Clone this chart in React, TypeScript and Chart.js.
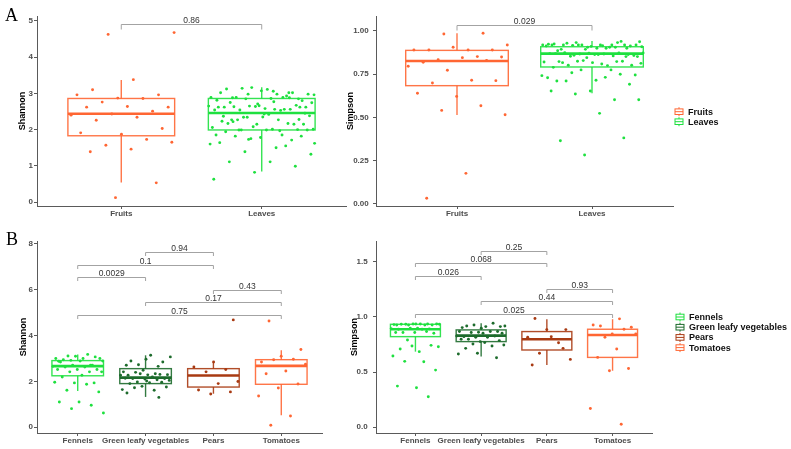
import { useEffect, useRef } from "react";
import { Chart, registerables } from "chart.js";

Chart.register(...registerables);

// ---------------- data ----------------
const groupsA = ["Fruits", "Leaves"];
const groupsB = ["Fennels", "Green leafy vegetables", "Pears", "Tomatoes"];

// Panel A – Shannon
const fruitsShannon = [4.63, 4.68, 3.38, 3.1, 2.96, 2.87, 2.96, 2.86, 2.76, 2.62, 2.64, 2.62, 2.51, 2.43, 2.4, 2.34, 2.26, 2.03, 1.87, 1.91, 1.73, 1.57, 1.65, 1.46, 1.39, 0.53, 0.12];
const leavesShannon = [3.02, 2.98, 2.96, 3.06, 2.88, 2.85, 2.71, 2.81, 2.89, 3.14, 2.98, 3.11, 3.12, 3.02, 3.16, 2.89, 2.98, 2.89, 2.8, 3.07, 3.02, 2.93, 2.85, 2.74, 2.86, 2.75, 2.67, 2.64, 2.54, 2.53, 2.54, 2.62, 2.58, 2.62, 2.56, 2.65, 2.65, 2.56, 2.63, 2.62, 2.66, 2.62, 2.56, 2.34, 2.38, 2.42, 2.17, 2.15, 2.08, 2.06, 2.27, 2.27, 2.15, 2.35, 2.23, 2.17, 2.34, 2.01, 2.01, 2.27, 2.0, 2.15, 1.85, 1.85, 1.99, 1.99, 1.99, 1.94, 1.71, 1.75, 1.6, 1.5, 1.82, 1.82, 1.78, 1.64, 1.55, 1.39, 1.32, 1.11, 1.11, 0.99, 0.82, 0.63, 1.97, 1.99, 2.45, 2.43, 2.37, 2.88, 1.73, 1.62, 2.77, 2.22, 2.28];
const aShannonQ1 = [1.83, 1.99];
const aShannonMedian = [2.44, 2.46];
const aShannonQ3 = [2.86, 2.86];
const aShannonLow = [0.54, 0.84];
const aShannonHigh = [3.37, 3.17];
const aShannonTicks = [0, 1, 2, 3, 4, 5];
const aShannonPairFrom = [1];
const aShannonPairTo = [2];
const aShannonPairY = [4.91];
const aShannonPairP = ["0.86"];

// Panel A – Simpson
const fruitsSimpson = [0.987, 0.983, 0.919, 0.89, 0.89, 0.89, 0.906, 0.89, 0.852, 0.834, 0.85, 0.846, 0.819, 0.83, 0.773, 0.796, 0.715, 0.699, 0.713, 0.622, 0.64, 0.568, 0.541, 0.516, 0.177, 0.033];
const leavesSimpson = [0.925, 0.933, 0.919, 0.909, 0.915, 0.919, 0.9, 0.906, 0.923, 0.919, 0.917, 0.919, 0.9, 0.886, 0.94, 0.919, 0.919, 0.9, 0.929, 0.913, 0.911, 0.919, 0.906, 0.933, 0.938, 0.919, 0.894, 0.919, 0.894, 0.913, 0.906, 0.854, 0.858, 0.864, 0.869, 0.873, 0.867, 0.873, 0.867, 0.875, 0.864, 0.871, 0.869, 0.856, 0.86, 0.852, 0.864, 0.823, 0.825, 0.829, 0.821, 0.8, 0.802, 0.802, 0.817, 0.79, 0.823, 0.825, 0.813, 0.809, 0.817, 0.852, 0.846, 0.73, 0.775, 0.759, 0.746, 0.715, 0.711, 0.75, 0.775, 0.742, 0.732, 0.711, 0.692, 0.653, 0.653, 0.603, 0.636, 0.603, 0.524, 0.366, 0.382, 0.283];
const aSimpsonQ1 = [0.684, 0.792];
const aSimpsonMedian = [0.827, 0.869];
const aSimpsonQ3 = [0.888, 0.909];
const aSimpsonLow = [0.514, 0.64];
const aSimpsonHigh = [0.987, 0.942];
const aSimpsonTicks = [0, 0.25, 0.5, 0.75, 1];
const aSimpsonPairFrom = [1];
const aSimpsonPairTo = [2];
const aSimpsonPairY = [1.033];
const aSimpsonPairP = ["0.029"];

// Panel B – Shannon
const fennelsShannon = [2.87, 2.7, 2.91, 2.88, 2.99, 2.94, 3.06, 3.09, 2.99, 3.17, 3.1, 2.99, 2.88, 2.84, 2.7, 2.7, 2.65, 2.62, 2.62, 2.51, 2.51, 2.51, 2.41, 2.41, 2.41, 2.26, 2.19, 1.93, 1.93, 1.96, 1.87, 1.61, 1.54, 1.1, 1.1, 0.96, 0.81, 0.62];
const glvShannon = [2.96, 2.7, 2.65, 2.72, 3.06, 3.13, 2.88, 2.84, 2.48, 2.41, 2.33, 2.39, 2.29, 2.28, 2.26, 2.3, 2.33, 2.26, 2.19, 2.12, 2.12, 2.1, 2.13, 2.07, 1.97, 2.04, 1.94, 1.9, 1.96, 1.78, 1.64, 1.61, 1.72, 1.75, 2.01, 1.49, 1.3];
const pearsShannon = [4.67, 2.84, 2.62, 2.51, 2.41, 1.99, 1.9, 1.62, 1.54, 1.45];
const tomatoesShannon = [4.62, 3.38, 3.09, 2.84, 2.96, 2.94, 2.74, 2.45, 2.33, 1.88, 1.71, 1.36, 0.49, 0.09];
const bShannonQ1 = [2.24, 1.9, 1.75, 1.87];
const bShannonMedian = [2.66, 2.16, 2.25, 2.67];
const bShannonQ3 = [2.9, 2.55, 2.55, 2.94];
const bShannonLow = [1.58, 1.32, 1.46, 0.52];
const bShannonHigh = [3.17, 3.13, 2.84, 3.35];
const bShannonTicks = [0, 2, 4, 6, 8];
const bShannonPairFrom = [2, 1, 1, 3, 2, 1];
const bShannonPairTo = [3, 3, 2, 4, 4, 4];
const bShannonPairY = [7.61, 7.07, 6.53, 5.98, 5.43, 4.88];
const bShannonPairP = ["0.94", "0.1", "0.0029", "0.43", "0.17", "0.75"];

// Panel B – Simpson
const fennelsSimpson = [0.936, 0.927, 0.936, 0.927, 0.933, 0.936, 0.933, 0.927, 0.936, 0.93, 0.927, 0.933, 0.936, 0.897, 0.888, 0.891, 0.897, 0.894, 0.888, 0.858, 0.852, 0.858, 0.858, 0.867, 0.791, 0.73, 0.685, 0.709, 0.742, 0.736, 0.645, 0.594, 0.597, 0.518, 0.358, 0.373, 0.276];
const glvSimpson = [0.912, 0.897, 0.903, 0.942, 0.927, 0.918, 0.912, 0.918, 0.867, 0.861, 0.867, 0.867, 0.858, 0.852, 0.852, 0.821, 0.827, 0.815, 0.827, 0.815, 0.797, 0.785, 0.776, 0.797, 0.736, 0.755, 0.745, 0.767, 0.715, 0.63, 0.67, 0.664];
const pearsSimpson = [0.985, 0.885, 0.885, 0.815, 0.766, 0.67, 0.615, 0.82, 0.564, 0.715];
const tomatoesSimpson = [0.982, 0.918, 0.906, 0.845, 0.927, 0.888, 0.815, 0.845, 0.709, 0.633, 0.533, 0.512, 0.17, 0.027];
const bSimpsonQ1 = [0.821, 0.776, 0.7, 0.633];
const bSimpsonMedian = [0.888, 0.83, 0.797, 0.836];
const bSimpsonQ3 = [0.933, 0.882, 0.867, 0.888];
const bSimpsonLow = [0.685, 0.64, 0.564, 0.512];
const bSimpsonHigh = [0.942, 0.942, 0.979, 0.979];
const bSimpsonTicks = [0, 0.5, 1, 1.5];
const bSimpsonPairFrom = [2, 1, 1, 3, 2, 1];
const bSimpsonPairTo = [3, 3, 2, 4, 4, 4];
const bSimpsonPairY = [1.6, 1.488, 1.373, 1.257, 1.145, 1.03];
const bSimpsonPairP = ["0.25", "0.068", "0.026", "0.93", "0.44", "0.025"];

// ---------------- styles ----------------
const ORANGE = "#ff6633";
const GREEN = "#1ee03f";
const DARKGREEN = "#1d6b2c";
const BROWN = "#a83a12";
const AXIS = "#5a5a5a";
const SANS = "'Liberation Sans', Arial, sans-serif";

type Frame = {
  left: number; top: number; width: number; height: number;
  yW: number; xH: number; padTop: number; padRight: number;
  titlePad: number; tickPad: number; drop: number;
  legend?: { x: number; y: number; dy: number };
};

type Spec = {
  groups: string[]; colors: string[]; points: number[][];
  q1: number[]; med: number[]; q3: number[]; lo: number[]; hi: number[];
  yMin: number; yMax: number; yTicks: number[]; digits: number; title: string;
  pFrom: number[]; pTo: number[]; pY: number[]; pLabel: string[];
  seed: number; frame: Frame;
};

// deterministic jitter (geom_jitter emulation), width ±0.38 of a category
function jitter(k: number, seed: number) {
  const u = (k * 0.6180339887 + seed * 0.377) % 1;
  return (u * 2 - 1) * 0.38;
}

const specs: Spec[] = [
  {
    groups: groupsA, colors: [ORANGE, GREEN], points: [fruitsShannon, leavesShannon],
    q1: aShannonQ1, med: aShannonMedian, q3: aShannonQ3, lo: aShannonLow, hi: aShannonHigh,
    yMin: -0.11, yMax: 5.138, yTicks: aShannonTicks, digits: 0, title: "Shannon",
    pFrom: aShannonPairFrom, pTo: aShannonPairTo, pY: aShannonPairY, pLabel: aShannonPairP, seed: 1,
    frame: { left: 0, top: 0, width: 350, height: 225, yW: 37, xH: 19, padTop: 16, padRight: 4, titlePad: 17.3, tickPad: 1, drop: 5 },
  },
  {
    groups: groupsA, colors: [ORANGE, GREEN], points: [fruitsSimpson, leavesSimpson],
    q1: aSimpsonQ1, med: aSimpsonMedian, q3: aSimpsonQ3, lo: aSimpsonLow, hi: aSimpsonHigh,
    yMin: -0.0116, yMax: 1.0867, yTicks: aSimpsonTicks, digits: 2, title: "Simpson",
    pFrom: aSimpsonPairFrom, pTo: aSimpsonPairTo, pY: aSimpsonPairY, pLabel: aSimpsonPairP, seed: 2,
    frame: { left: 330, top: 0, width: 461, height: 225, yW: 46, xH: 19, padTop: 16, padRight: 118, titlePad: 15.1, tickPad: 4.3, drop: 5, legend: { x: 349, y: 111.7, dy: 10 } },
  },
  {
    groups: groupsB, colors: [GREEN, DARKGREEN, BROWN, ORANGE], points: [fennelsShannon, glvShannon, pearsShannon, tomatoesShannon],
    q1: bShannonQ1, med: bShannonMedian, q3: bShannonQ3, lo: bShannonLow, hi: bShannonHigh,
    yMin: -0.248, yMax: 8.1, yTicks: bShannonTicks, digits: 0, title: "Shannon",
    pFrom: bShannonPairFrom, pTo: bShannonPairTo, pY: bShannonPairY, pLabel: bShannonPairP, seed: 3,
    frame: { left: 0, top: 225, width: 350, height: 224, yW: 37, xH: 16, padTop: 16, padRight: 28, titlePad: 17.9, tickPad: 1, drop: 3.5 },
  },
  {
    groups: groupsB, colors: [GREEN, DARKGREEN, BROWN, ORANGE], points: [fennelsSimpson, glvSimpson, pearsSimpson, tomatoesSimpson],
    q1: bSimpsonQ1, med: bSimpsonMedian, q3: bSimpsonQ3, lo: bSimpsonLow, hi: bSimpsonHigh,
    yMin: -0.052, yMax: 1.6875, yTicks: bSimpsonTicks, digits: 1, title: "Simpson",
    pFrom: bSimpsonPairFrom, pTo: bSimpsonPairTo, pY: bSimpsonPairY, pLabel: bSimpsonPairP, seed: 4,
    frame: { left: 330, top: 225, width: 461, height: 224, yW: 46, xH: 16, padTop: 16, padRight: 139, titlePad: 19.6, tickPad: 5.3, drop: 3.5, legend: { x: 350, y: 92, dy: 10.2 } },
  },
];

function withAlpha(hex: string, a: number) {
  const r = parseInt(hex.slice(1, 3), 16), g = parseInt(hex.slice(3, 5), 16), b = parseInt(hex.slice(5, 7), 16);
  return `rgba(${r},${g},${b},${a})`;
}

function PanelChart({ spec }: { spec: Spec }) {
  const ref = useRef<HTMLCanvasElement>(null);
  const f = spec.frame;
  useEffect(() => {
    const n = spec.groups.length;
    const datasets = spec.points.map((vals, gi) => ({
      type: "scatter" as const,
      label: spec.groups[gi],
      data: vals.map((v, k) => ({ x: gi + 1 + jitter(k, spec.seed + gi), y: v })),
      backgroundColor: spec.colors[gi],
      borderWidth: 0,
      pointRadius: 1.45,
      pointHoverRadius: 1.45,
    }));

    const line = (ctx: CanvasRenderingContext2D, x1: number, y1: number, x2: number, y2: number) => {
      ctx.beginPath();
      ctx.moveTo(x1, y1);
      ctx.lineTo(x2, y2);
      ctx.stroke();
    };

    const plugin = {
      id: "boxAndBrackets",
      beforeDatasetsDraw(chart: any) {
        const ctx: CanvasRenderingContext2D = chart.ctx;
        const xs = chart.scales.x, ys = chart.scales.y;
        ctx.save();
        spec.groups.forEach((_, i) => {
          const cx = xs.getPixelForValue(i + 1);
          const half = cx - xs.getPixelForValue(i + 1 - 0.38);
          const yQ1 = ys.getPixelForValue(spec.q1[i]);
          const yQ3 = ys.getPixelForValue(spec.q3[i]);
          const yMed = ys.getPixelForValue(spec.med[i]);
          const yLo = ys.getPixelForValue(spec.lo[i]);
          const yHi = ys.getPixelForValue(spec.hi[i]);
          const c = spec.colors[i];
          ctx.strokeStyle = withAlpha(c, 0.9);
          ctx.lineWidth = 1.4;
          line(ctx, cx, yHi, cx, yQ3);
          line(ctx, cx, yQ1, cx, yLo);
          ctx.strokeRect(cx - half, yQ3, 2 * half, yQ1 - yQ3);
          ctx.strokeStyle = c;
          ctx.lineWidth = 2.6;
          line(ctx, cx - half, yMed, cx + half, yMed);
        });
        ctx.restore();
      },
      afterDatasetsDraw(chart: any) {
        const ctx: CanvasRenderingContext2D = chart.ctx;
        const xs = chart.scales.x, ys = chart.scales.y;
        ctx.save();
        ctx.strokeStyle = "#a3a3a3";
        ctx.lineWidth = 1;
        ctx.fillStyle = "#333333";
        ctx.font = `8.5px ${SANS}`;
        ctx.textAlign = "center";
        ctx.textBaseline = "alphabetic";
        spec.pY.forEach((yv, i) => {
          const x1 = xs.getPixelForValue(spec.pFrom[i]);
          const x2 = xs.getPixelForValue(spec.pTo[i]);
          const y = Math.round(ys.getPixelForValue(yv)) + 0.5;
          ctx.beginPath();
          ctx.moveTo(x1, y + f.drop);
          ctx.lineTo(x1, y);
          ctx.lineTo(x2, y);
          ctx.lineTo(x2, y + f.drop);
          ctx.stroke();
          ctx.fillText(spec.pLabel[i], (x1 + x2) / 2, y - 2);
        });
        if (f.legend) {
          const L = f.legend;
          spec.groups.forEach((g, i) => {
            const y = L.y + i * L.dy;
            const c = spec.colors[i];
            ctx.strokeStyle = c;
            ctx.lineWidth = 1;
            line(ctx, L.x, y - 4.5, L.x, y + 4.5);
            ctx.fillStyle = "#ffffff";
            ctx.fillRect(L.x - 4, y - 2.8, 8, 5.6);
            ctx.strokeRect(L.x - 4, y - 2.8, 8, 5.6);
            line(ctx, L.x - 4, y, L.x + 4, y);
            ctx.fillStyle = "#111111";
            ctx.font = `bold 9px ${SANS}`;
            ctx.textAlign = "left";
            ctx.textBaseline = "middle";
            ctx.fillText(g, L.x + 9, y + 0.5);
          });
        }
        ctx.restore();
      },
    };

    const tickFont = { family: SANS, size: 8, weight: "bold" as const };
    const chart = new Chart(ref.current!, {
      type: "scatter",
      data: { datasets: datasets as any },
      options: {
        responsive: false,
        animation: false,
        devicePixelRatio: 1,
        events: [],
        layout: { padding: { left: 0, top: f.padTop, right: f.padRight, bottom: 0 } },
        plugins: { legend: { display: false }, tooltip: { enabled: false } },
        scales: {
          x: {
            type: "linear",
            bounds: "data",
            min: 0.4,
            max: n + 0.6,
            afterBuildTicks: (axis: any) => {
              axis.ticks = spec.groups.map((_, i) => ({ value: i + 1 }));
            },
            afterFit: (s: any) => { s.height = f.xH; },
            ticks: {
              autoSkip: false,
              maxRotation: 0,
              minRotation: 0,
              padding: 0,
              color: "#4d4d4d",
              font: tickFont,
              callback: (_v: any, idx: number) => spec.groups[idx],
            },
            grid: { display: true, drawOnChartArea: false, drawTicks: true, tickLength: 3, color: AXIS },
            border: { display: true, color: AXIS, width: 1 },
          },
          y: {
            type: "linear",
            bounds: "data",
            min: spec.yMin,
            max: spec.yMax,
            afterBuildTicks: (axis: any) => {
              axis.ticks = spec.yTicks.map((v) => ({ value: v }));
            },
            afterFit: (s: any) => { s.width = f.yW; },
            ticks: {
              padding: f.tickPad,
              color: "#4d4d4d",
              font: tickFont,
              callback: (v: any) => Number(v).toFixed(spec.digits),
            },
            title: {
              display: true,
              text: spec.title,
              color: "#000000",
              font: { family: SANS, size: 9, weight: "bold" as const },
              padding: { top: f.titlePad, bottom: 0 },
            },
            grid: { display: true, drawOnChartArea: false, drawTicks: true, tickLength: 3, color: AXIS },
            border: { display: true, color: AXIS, width: 1 },
          },
        },
      } as any,
      plugins: [plugin],
    });
    return () => chart.destroy();
  }, [spec]);
  return (
    <canvas
      ref={ref}
      width={f.width}
      height={f.height}
      style={{ position: "absolute", left: f.left, top: f.top, width: f.width, height: f.height }}
    />
  );
}

export default function App() {
  const labelStyle = (left: number, top: number): React.CSSProperties => ({
    position: "absolute",
    left,
    top,
    fontFamily: "'Liberation Serif', 'Times New Roman', serif",
    fontSize: 18,
    lineHeight: 1,
    color: "#000",
  });
  return (
    <div style={{ position: "fixed", left: 0, top: 0, width: 791, height: 449, background: "#ffffff", overflow: "hidden" }}>
      {specs.map((s, i) => (
        <PanelChart key={i} spec={s} />
      ))}
      <div style={labelStyle(5, 5.6)}>A</div>
      <div style={labelStyle(6, 230)}>B</div>
    </div>
  );
}
